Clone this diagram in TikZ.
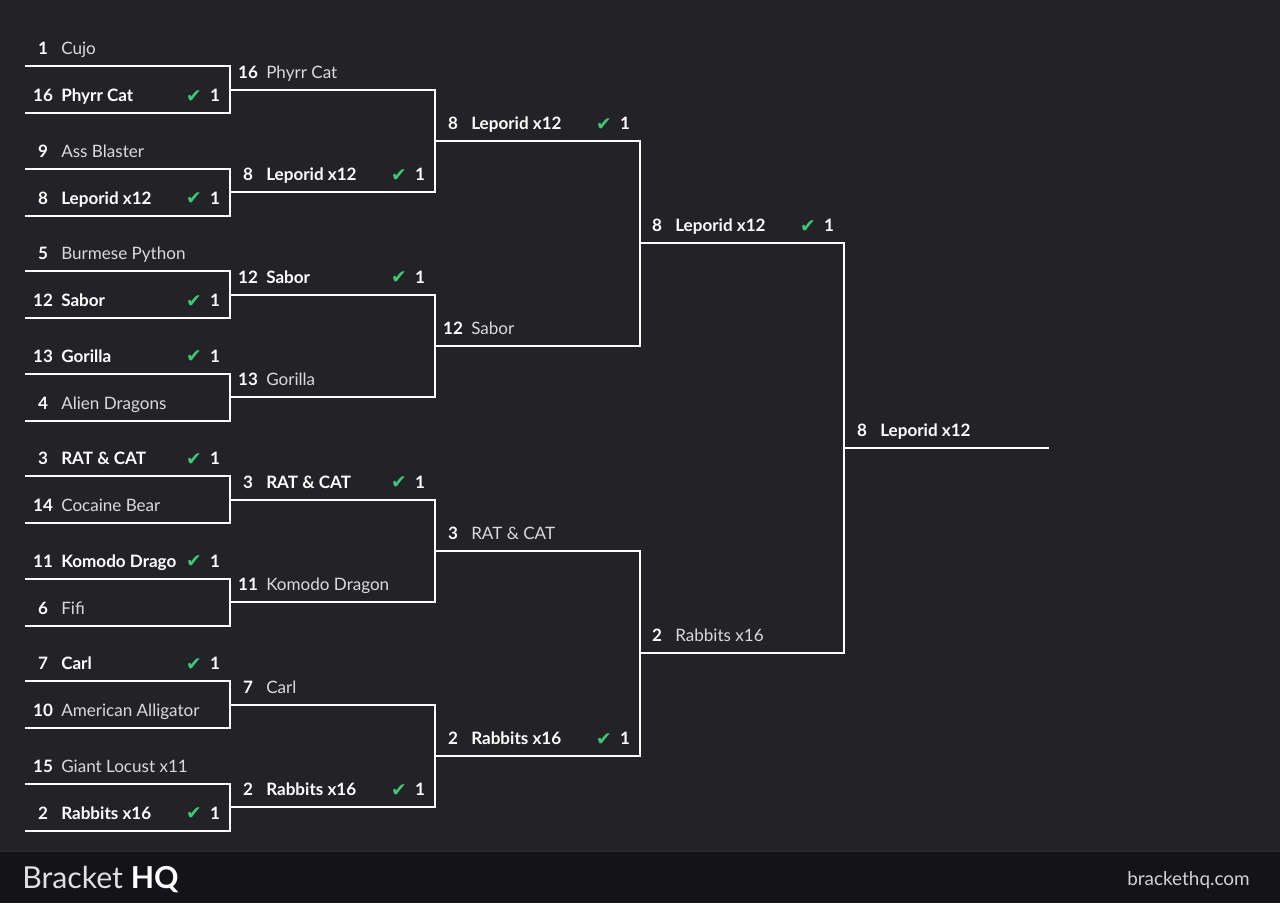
\documentclass[tikz,border=0pt]{standalone}
\usepackage{fontspec}
\setmainfont{Lato}
\newfontfamily\tickfont{DejaVu Sans}
\usetikzlibrary{calc}
\definecolor{bgdark}{HTML}{232327}
\definecolor{footdark}{HTML}{141418}
\definecolor{footline}{HTML}{2E2E33}
\definecolor{wingreen}{HTML}{3CCB74}
\definecolor{losergray}{HTML}{DADADC}
\tikzset{
	bline/.style={
			draw=white,
			line width=1.5pt,
			line join=miter
		},
	seednode/.style={
			text=white,
			font=\bfseries\fontsize{12.8}{15}\selectfont,
			anchor=base,
			inner sep=0pt
		},
	winnode/.style={
			text=white,
			font=\bfseries\fontsize{12.8}{15}\selectfont,
			anchor=base west,
			inner sep=0pt
		},
	losenode/.style={
			winnode,
			text=losergray,
			font=\fontsize{12.8}{15}\selectfont
		},
	ticknode/.style={
			text=wingreen,
			font=\tickfont\fontsize{14}{16}\selectfont,
			anchor=center,
			inner sep=0pt
		},
	scorenode/.style={
			seednode
		}
}
% one slot of the bracket: name, x, y of its line, seed, text, kind
% kind: 0 loser, 1 winner, 2 champion, 3 winner with cut text
\newcommand{\bracketslot}[6]{%
  \coordinate (#1-w) at (#2,#3);
  \coordinate (#1-e) at ($(#1-w)+(205,0)$);
  \node[seednode] (#1-s) at ($(#1-w)+(18,-11.5)$) {#4};
  \ifcase#6
    \node[losenode] (#1-n) at ($(#1-w)+(36,-11.5)$) {#5};
  \or
    \node[winnode] (#1-n) at ($(#1-w)+(36,-11.5)$) {#5};
    \node[ticknode] (#1-t) at ($(#1-w)+(169,-16.5)$) {✔};
    \node[scorenode] (#1-c) at ($(#1-w)+(190,-11.5)$) {1};
  \or
    \node[winnode] (#1-n) at ($(#1-w)+(36,-11.5)$) {#5};
  \or
    \begin{scope}
      \clip ($(#1-w)+(0,-40)$) rectangle ($(#1-w)+(151,0)$);
      \node[winnode] (#1-n) at ($(#1-w)+(36,-11.5)$) {#5};
    \end{scope}
    \node[ticknode] (#1-t) at ($(#1-w)+(169,-16.5)$) {✔};
    \node[scorenode] (#1-c) at ($(#1-w)+(190,-11.5)$) {1};
  \fi
}

\begin{document}
\begin{tikzpicture}[x=0.75pt, y=-0.75pt]
\useasboundingbox (0,0) rectangle (1280,903);
\fill[bgdark] (0,0) rectangle (1280,903);
\fill[footdark] (0,851) rectangle (1280,903);
\draw[footline, line width=0.75pt] (0,851) -- (1280,851);

% round 1
\foreach \y/\sd/\nm/\w [count=\i] in {
  66/1/Cujo/0, 113/16/Phyrr Cat/1,
  168.5/9/Ass Blaster/0, 215.5/8/Leporid x12/1,
  271/5/Burmese Python/0, 318/12/Sabor/1,
  373.5/13/Gorilla/1, 420.5/4/Alien Dragons/0,
  476/3/RAT \& CAT/1, 523/14/Cocaine Bear/0,
  578.5/11/Komodo Dragon/3, 625.5/6/Fifi/0,
  681/7/Carl/1, 728/10/American Alligator/0,
  783.5/15/Giant Locust x11/0, 830.5/2/Rabbits x16/1}
  {\bracketslot{a\i}{25}{\y}{\sd}{\nm}{\w}}

% round 2
\foreach \y/\sd/\nm/\w [count=\i] in {
  89.5/16/Phyrr Cat/0, 192/8/Leporid x12/1,
  294.5/12/Sabor/1, 397/13/Gorilla/0,
  499.5/3/RAT \& CAT/1, 602/11/Komodo Dragon/0,
  704.5/7/Carl/0, 807/2/Rabbits x16/1}
  {\bracketslot{b\i}{230}{\y}{\sd}{\nm}{\w}}

% round 3
\foreach \y/\sd/\nm/\w [count=\i] in {
  140.75/8/Leporid x12/1, 345.75/12/Sabor/0,
  550.75/3/RAT \& CAT/0, 755.75/2/Rabbits x16/1}
  {\bracketslot{c\i}{435}{\y}{\sd}{\nm}{\w}}

% round 4
\foreach \y/\sd/\nm/\w [count=\i] in {
  243.25/8/Leporid x12/1, 653.25/2/Rabbits x16/0}
  {\bracketslot{d\i}{639}{\y}{\sd}{\nm}{\w}}

% final
\bracketslot{f1}{844}{448.25}{8}{Leporid x12}{2}

% match lines
\foreach \r/\n in {a/8, b/4, c/2, d/1} {
  \foreach \k in {1,...,\n} {
    \pgfmathtruncatemacro\i{2*\k-1}
    \pgfmathtruncatemacro\j{2*\k}
    \draw[bline] (\r\i-w) -- (\r\i-e) -- (\r\j-e) -- (\r\j-w);
  }
}
\draw[bline] (f1-w) -- (f1-e);

% footer
\node[anchor=base west, inner sep=0pt, text=white!88!black,
  font=\fontsize{22.7}{26}\selectfont] (brand) at (22,888)
  {Bracket \textbf{\color{white}HQ}};
\node[anchor=base east, inner sep=0pt, text=white!82!black,
  font=\fontsize{14.2}{17}\selectfont] (site) at (1250,885) {brackethq.com};
\end{tikzpicture}
\end{document}
